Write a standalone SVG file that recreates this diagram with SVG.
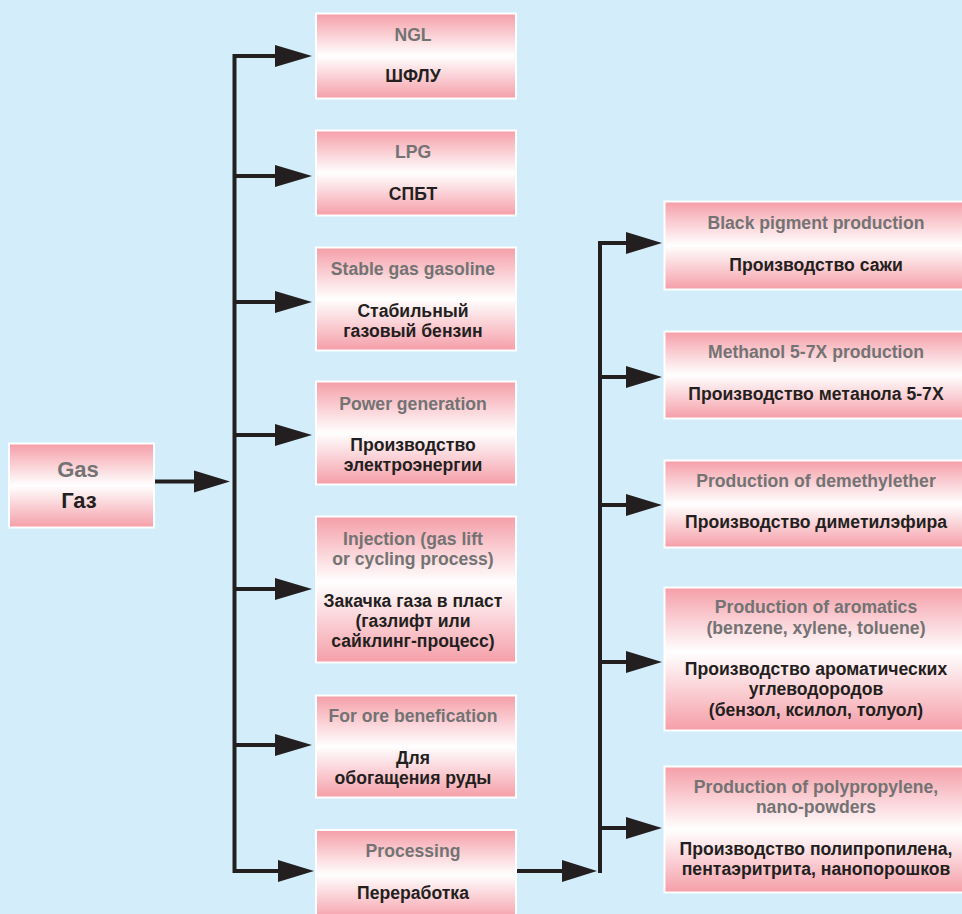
<svg xmlns="http://www.w3.org/2000/svg" width="962" height="914" viewBox="0 0 962 914">
<defs>
<linearGradient id="pg" x1="0" y1="0" x2="0" y2="1">
<stop offset="0" stop-color="#f59ea8"/>
<stop offset="0.5" stop-color="#ffffff"/>
<stop offset="1" stop-color="#f59ea8"/>
</linearGradient>
<linearGradient id="pg2" x1="0" y1="0" x2="0" y2="1">
<stop offset="0" stop-color="#f59ea8"/>
<stop offset="0.45" stop-color="#ffffff"/>
<stop offset="1" stop-color="#f59ea8"/>
</linearGradient>
<style>
.box{fill:url(#pg);stroke:#ffffff;stroke-width:2}
.box2{fill:url(#pg2);stroke:#ffffff;stroke-width:2}
text{font-family:"Liberation Sans",Arial,sans-serif;font-weight:bold;font-size:17.6px;text-anchor:middle}
.en{fill:#737373}
.ru{fill:#231f20}
.big{font-size:22px}
.ln{stroke:#231f20;stroke-width:4;fill:none}
.ah{fill:#231f20}
</style>
</defs>
<rect x="0" y="0" width="962" height="914" fill="#d3eefa"/>
<g id="connectors">
<line class="ln" x1="155" y1="481.5" x2="200" y2="481.5"/>
<polygon class="ah" points="194,470.5 230,481.5 194,492.5"/>
<line class="ln" x1="234.5" y1="54" x2="234.5" y2="873"/>
<path class="ln" d="M234.5 56H280M234.5 176H280M234.5 302H280M234.5 435H280M234.5 589H280M234.5 745H280M234.5 871H280"/>
<polygon class="ah" points="275,45 312,56 275,67"/>
<polygon class="ah" points="275,165 312,176 275,187"/>
<polygon class="ah" points="275,291 312,302 275,313"/>
<polygon class="ah" points="275,424 312,435 275,446"/>
<polygon class="ah" points="275,578 312,589 275,600"/>
<polygon class="ah" points="275,734 312,745 275,756"/>
<polygon class="ah" points="278,860 314,871 278,882"/>
<line class="ln" x1="517" y1="871" x2="570" y2="871"/>
<polygon class="ah" points="562,860 597,871 562,882"/>
<line class="ln" x1="600" y1="241" x2="600" y2="873"/>
<path class="ln" d="M600 243H630M600 377H630M600 505H630M600 662H630M600 828H630"/>
<polygon class="ah" points="626,232 662,243 626,254"/>
<polygon class="ah" points="626,366 662,377 626,388"/>
<polygon class="ah" points="626,494 662,505 626,516"/>
<polygon class="ah" points="626,651 662,662 626,673"/>
<polygon class="ah" points="626,817 662,828 626,839"/>
</g>
<g id="gas">
<rect class="box" x="9" y="443.5" width="145" height="84"/>
<text class="en big" x="78" y="477">Gas</text>
<text class="ru big" x="79" y="508">Газ</text>
</g>
<g id="ngl">
<rect class="box" x="316" y="13.5" width="200" height="85"/>
<text class="en" x="413" y="41">NGL</text>
<text class="ru" x="413" y="82">ШФЛУ</text>
</g>
<g id="lpg">
<rect class="box" x="316" y="130.5" width="200" height="85"/>
<text class="en" x="413" y="158">LPG</text>
<text class="ru" x="413" y="200">СПБТ</text>
</g>
<g id="gasoline">
<rect class="box" x="316" y="247.5" width="200" height="103"/>
<text class="en" x="413" y="275">Stable gas gasoline</text>
<text class="ru" x="413" y="317">Стабильный</text>
<text class="ru" x="413" y="337">газовый бензин</text>
</g>
<g id="power">
<rect class="box" x="316" y="381.5" width="200" height="103"/>
<text class="en" x="413" y="410">Power generation</text>
<text class="ru" x="413" y="451">Производство</text>
<text class="ru" x="413" y="471">электроэнергии</text>
</g>
<g id="injection">
<rect class="box2" x="316" y="516.5" width="200" height="146"/>
<text class="en" x="413" y="545">Injection (gas lift</text>
<text class="en" x="413" y="565">or cycling process)</text>
<text class="ru" x="413" y="607">Закачка газа в пласт</text>
<text class="ru" x="413" y="627">(газлифт или</text>
<text class="ru" x="413" y="647">сайклинг-процесс)</text>
</g>
<g id="ore">
<rect class="box" x="316" y="695.5" width="200" height="102"/>
<text class="en" x="413" y="722">For ore benefication</text>
<text class="ru" x="413" y="764">Для</text>
<text class="ru" x="413" y="784">обогащения руды</text>
</g>
<g id="processing">
<rect class="box" x="316" y="830" width="200" height="90"/>
<text class="en" x="413" y="857">Processing</text>
<text class="ru" x="413" y="899">Переработка</text>
</g>
<g id="pigment">
<rect class="box" x="664.5" y="201.5" width="310" height="88"/>
<text class="en" x="816" y="229">Black pigment production</text>
<text class="ru" x="816" y="271">Производство сажи</text>
</g>
<g id="methanol">
<rect class="box" x="664.5" y="331.5" width="310" height="87"/>
<text class="en" x="816" y="358">Methanol 5-7X production</text>
<text class="ru" x="816" y="400">Производство метанола 5-7X</text>
</g>
<g id="dme">
<rect class="box" x="664.5" y="460.5" width="310" height="87"/>
<text class="en" x="816" y="487">Production of demethylether</text>
<text class="ru" x="816" y="528">Производство диметилэфира</text>
</g>
<g id="aromatics">
<rect class="box2" x="664.5" y="587.5" width="310" height="143"/>
<text class="en" x="816" y="613">Production of aromatics</text>
<text class="en" x="816" y="634">(benzene, xylene, toluene)</text>
<text class="ru" x="816" y="675">Производство ароматических</text>
<text class="ru" x="816" y="695">углеводородов</text>
<text class="ru" x="816" y="716">(бензол, ксилол, толуол)</text>
</g>
<g id="polypropylene">
<rect class="box" x="664.5" y="766.5" width="310" height="126"/>
<text class="en" x="816" y="793">Production of polypropylene,</text>
<text class="en" x="816" y="813">nano-powders</text>
<text class="ru" x="816" y="855">Производство полипропилена,</text>
<text class="ru" x="816" y="875">пентаэритрита, нанопорошков</text>
</g>
</svg>
